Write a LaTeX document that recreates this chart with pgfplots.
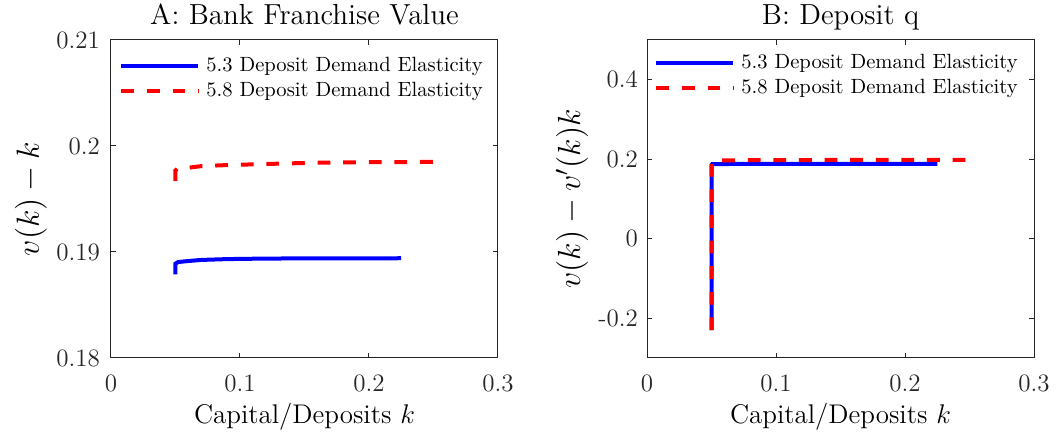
\RequirePackage{fix-cm}
\documentclass[border=0pt]{standalone}
\usepackage{pgfplots}
\pgfplotsset{compat=1.18}

\definecolor{axgray}{rgb}{0.15,0.15,0.15}

\pgfplotsset{
  every axis title shift=0pt,
  panel/.style={
    scale only axis,
    width=193.5pt, height=159pt,
    xmin=0, xmax=0.3,
    xtick={0,0.1,0.2,0.3},
    xticklabels={0,0.1,0.2,0.3},
    axis line style={axgray, line width=0.5pt},
    every tick/.style={axgray, line width=0.5pt},
    major tick length=2.5pt,
    tick align=inside,
    ticklabel style={font=\fontsize{12.5}{14}\selectfont, text=axgray},
    xticklabel style={yshift=-5pt},
    title style={at={(0.5,1)}, anchor=base, yshift=7.5pt, font=\fontsize{14.5}{16}\selectfont},
    xlabel style={at={(axis description cs:0.5,0)}, anchor=base, yshift=-33pt, font=\fontsize{13.5}{16}\selectfont},
    ylabel style={font=\fontsize{16}{18}\selectfont},
    xlabel={Capital/Deposits $k$},
    legend cell align=left,
    legend style={draw=none, fill=none, at={(axis description cs:0,1)}, anchor=north west,
      font=\fontsize{10.3}{12}\selectfont, inner sep=0pt, row sep=2pt,
      nodes={inner ysep=1pt, inner xsep=3pt}},
    legend image code/.code={\draw[##1] (0pt,0pt) -- (38.5pt,0pt);},
  },
  blueline/.style={color={rgb,1:red,0;green,0;blue,1}, line width=2pt},
  redline/.style={color={rgb,1:red,1;green,0;blue,0}, line width=2pt, dash pattern=on 6.4pt off 6.4pt},
}

\begin{document}
\begin{tikzpicture}
\useasboundingbox (-55.5pt,-39.5pt) rectangle (475pt,179pt);

\begin{axis}[panel,
  at={(0pt,0pt)}, anchor=south west,
  ymin=0.18, ymax=0.21,
  ytick={0.18,0.19,0.2,0.21},
  yticklabels={0.18,0.19,0.2,0.21},
  yticklabel style={xshift=-2pt},
  title={A: Bank Franchise Value},
  ylabel={$v(k)-k$},
  ylabel style={at={([xshift=-36pt]axis description cs:0,0.5)}, anchor=base},
  legend style={xshift=4pt, yshift=-7.5pt},
]
\addplot[blueline] coordinates {
  (0.05,0.1879) (0.05,0.1889) (0.052,0.18905) (0.06,0.18915) (0.07,0.18925)
  (0.09,0.18933) (0.12,0.18938) (0.16,0.1894) (0.225,0.18941)
};
\addlegendentry{5.3 Deposit Demand Elasticity}
\addplot[redline] coordinates {
  (0.05,0.1967) (0.05,0.1977) (0.052,0.1979) (0.06,0.19795) (0.07,0.1981)
  (0.09,0.1982) (0.12,0.1983) (0.16,0.19843) (0.2,0.19847) (0.25,0.1985)
};
\addlegendentry{5.8 Deposit Demand Elasticity}
\end{axis}

\begin{axis}[panel,
  at={(268pt,0pt)}, anchor=south west,
  ymin=-0.3, ymax=0.5,
  ytick={-0.2,0,0.2,0.4},
  yticklabels={-0.2,0,0.2,0.4},
  yticklabel style={xshift=-1pt},
  title={B: Deposit q},
  ylabel={$v(k)-v'(k)k$},
  ylabel style={at={([xshift=-33.5pt]axis description cs:0,0.5)}, anchor=base},
  legend style={xshift=3.5pt, yshift=-6pt},
]
\addplot[blueline] coordinates {
  (0.05,-0.23) (0.05,0.185) (0.0505,0.1875) (0.055,0.188) (0.1,0.1882) (0.225,0.1885)
};
\addlegendentry{5.3 Deposit Demand Elasticity}
\addplot[redline] coordinates {
  (0.05,-0.23) (0.05,0.192) (0.0505,0.195) (0.055,0.197) (0.1,0.198) (0.25,0.1985)
};
\addlegendentry{5.8 Deposit Demand Elasticity}
\end{axis}
\end{tikzpicture}
\end{document}
